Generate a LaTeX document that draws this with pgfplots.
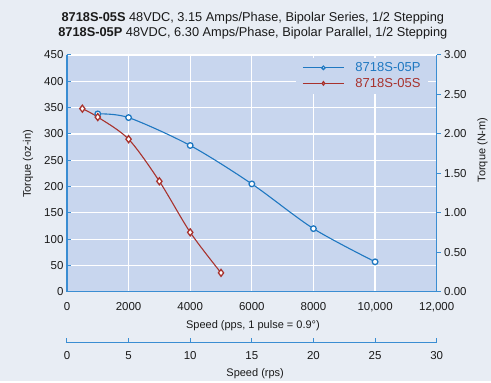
\documentclass[border=0pt]{standalone}
\usepackage{pgfplots}
\pgfplotsset{compat=1.18}
\usepackage{fontspec}
\setmainfont{Liberation Sans}
\definecolor{bgc}{HTML}{E8EDF4}
\definecolor{plotbg}{HTML}{C8D6EE}
\definecolor{axblue}{HTML}{3A8DD2}
\definecolor{lblue}{HTML}{1F78C1}
\definecolor{lred}{HTML}{A8322D}
\definecolor{txt}{HTML}{1A1A1A}
\begin{document}
\begin{tikzpicture}
\path[fill=bgc] (0pt,0pt) rectangle (491pt,381pt);
\node[anchor=base,font=\fontsize{12.8}{14}\selectfont,text=txt,inner sep=0pt] at (253pt,359pt) {\textbf{8718S-05S} 48VDC, 3.15 Amps/Phase, Bipolar Series, 1/2 Stepping};
\node[anchor=base,font=\fontsize{12.8}{14}\selectfont,text=txt,inner sep=0pt] at (253pt,344pt) {\textbf{8718S-05P} 48VDC, 6.30 Amps/Phase, Bipolar Parallel, 1/2 Stepping};
\begin{axis}[
  at={(67pt,89pt)}, anchor=south west,
  scale only axis, width=370pt, height=237pt,
  xmin=0, xmax=12000, ymin=0, ymax=450,
  axis y line*=left, axis x line*=bottom,
  axis line style={axblue, line width=1.3pt, -},
  axis background/.style={fill=plotbg},
  xtick={0,2000,...,12000},
  xticklabels={0,2000,4000,6000,8000,{10,000},{12,000}},
  scaled x ticks=false,
  ytick={0,50,...,450},
  grid=major, major grid style={white, line width=1.2pt},
  xtick style={draw=none},
  ytick style={axblue, line width=1pt},
  major tick length=4pt, tick align=inside,
  ticklabel style={font=\fontsize{11.5}{13}\selectfont, text=txt},
  /pgf/number format/assume math mode=true,
  xticklabel style={yshift=-7pt},
  ylabel={Torque (oz-in)},
  ylabel style={at={(axis description cs:-0.105,0.54)}, anchor=center, font=\fontsize{11}{13}\selectfont, text=txt},
  xlabel={Speed (pps, 1 pulse = 0.9°)},
  xlabel style={at={(axis description cs:0.503,-0.141)}, anchor=center, font=\fontsize{11}{13}\selectfont, text=txt},
  legend style={at={(axis description cs:0.62,0.99)}, anchor=north west, draw=none, fill=plotbg,
    inner xsep=6pt, inner ysep=3pt,
    font=\fontsize{13}{14}\selectfont, row sep=1pt},
  legend cell align=left,
  legend image code/.code={\draw[#1, mark=none] (0pt,0pt) -- (41pt,0pt);
     \path[#1, mark size=1.7pt, line width=0.8pt] plot coordinates {(20.5pt,0pt)};
     \path (50pt,0pt);},
]
\addplot[lblue, line width=1.1pt, smooth, tension=0.5, mark=*, mark size=2.8pt,
  mark options={fill=white, line width=1.3pt}]
  coordinates {(1000,338) (2000,331) (4000,278) (6000,205) (8000,120) (10000,57)};
\addlegendentry{\textcolor{lblue}{8718S-05P}}
\addplot[lred, line width=1.1pt, smooth, tension=0.5, mark=diamond*, mark size=3.5pt,
  mark options={fill=white, line width=1.3pt}]
  coordinates {(500,348) (1000,332) (2000,290) (3000,210) (4000,113) (5000,36)};
\addlegendentry{\textcolor{lred}{8718S-05S}}
\end{axis}
\begin{axis}[
  at={(67pt,89pt)}, anchor=south west,
  scale only axis, width=370pt, height=237pt,
  xmin=0, xmax=12000, ymin=0, ymax=3,
  axis y line*=right, axis x line=none,
  axis line style={axblue, line width=1.3pt, -},
  ytick={0,0.5,...,3},
  ytick style={axblue, line width=1pt},
  major tick length=4pt, tick align=outside,
  ticklabel style={font=\fontsize{11.5}{13}\selectfont, text=txt},
  yticklabel style={/pgf/number format/.cd, fixed, fixed zerofill, precision=2, assume math mode=true},
  ylabel={Torque (N-m)},
  ylabel style={at={(axis description cs:1.124,0.599)}, anchor=center, rotate=0, font=\fontsize{11}{13}\selectfont, text=txt},
]
\end{axis}
\begin{axis}[
  at={(67pt,38pt)}, anchor=south west,
  scale only axis, width=370pt, height=1pt,
  xmin=0, xmax=30, ymin=0, ymax=1,
  axis x line*=bottom, hide y axis,
  axis line style={axblue, line width=1.3pt, -},
  xtick={0,5,...,30},
  xtick style={axblue, line width=1pt},
  major tick length=5pt, tick align=inside,
  ticklabel style={font=\fontsize{11.5}{13}\selectfont, text=txt},
  /pgf/number format/assume math mode=true,
  xticklabel style={yshift=-5pt},
  xlabel={Speed (rps)},
  xlabel style={at={(axis description cs:0.509,-1)}, anchor=base, yshift=-33pt, font=\fontsize{11}{13}\selectfont, text=txt},
]
\end{axis}
\end{tikzpicture}
\end{document}
